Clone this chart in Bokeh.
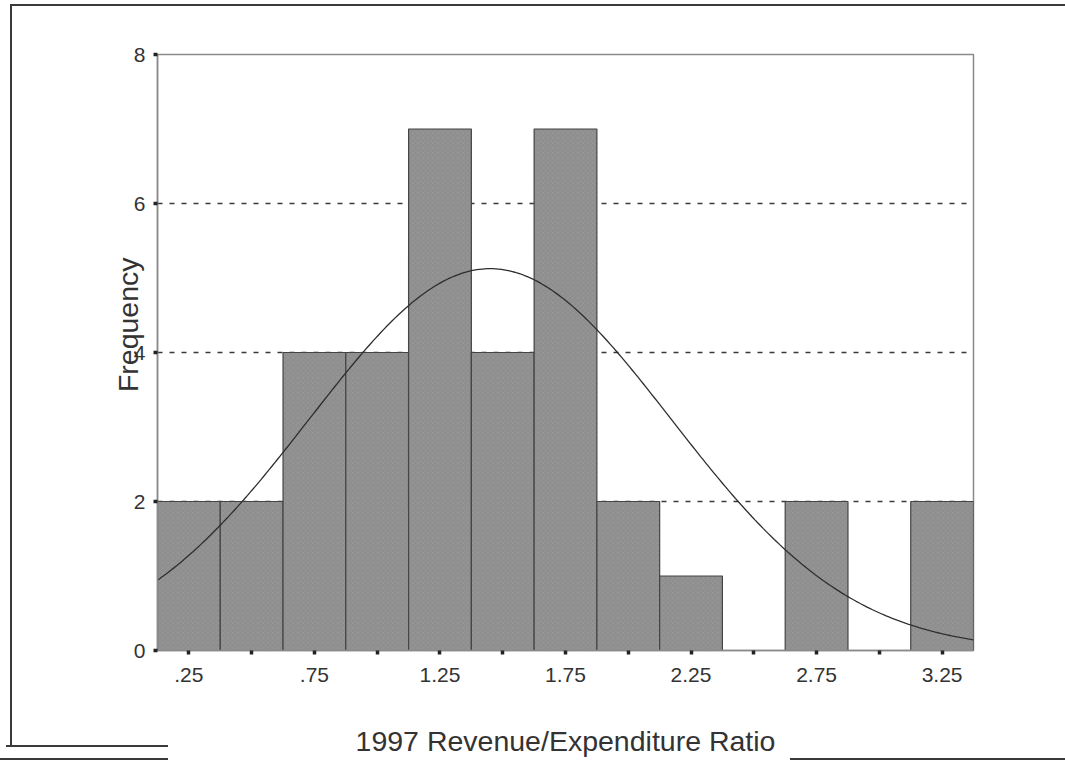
import numpy as np
from bokeh.plotting import figure
from bokeh.models import FixedTicker, ColumnDataSource, Range1d
from bokeh.embed import file_html
from bokeh.resources import INLINE

# ---- data ----
bin_centers = [0.25, 0.50, 0.75, 1.00, 1.25, 1.50, 1.75, 2.00, 2.25, 2.50, 2.75, 3.00, 3.25]
frequencies = [2, 2, 4, 4, 7, 4, 7, 2, 1, 0, 2, 0, 2]
bin_width = 0.25
x_tick_values = [0.25, 0.50, 0.75, 1.00, 1.25, 1.50, 1.75, 2.00, 2.25, 2.50, 2.75, 3.00, 3.25]
x_tick_labels = [".25", "", ".75", "", "1.25", "", "1.75", "", "2.25", "", "2.75", "", "3.25"]
y_tick_values = [0, 2, 4, 6, 8]
grid_values = [2, 4, 6]
# normal curve overlay (parameters)
curve_mean = 1.45
curve_sd = 0.72

FONT = "Liberation Sans"

centers = np.array(bin_centers)
counts = np.array(frequencies)
n_total = counts.sum()

src = ColumnDataSource(dict(left=centers - bin_width / 2, right=centers + bin_width / 2,
                            top=counts, bottom=np.zeros_like(counts)))

x_lo = centers.min() - bin_width / 2
x_hi = centers.max() + bin_width / 2

p = figure(width=1065, height=761, output_backend="svg", toolbar_location=None,
           x_range=Range1d(x_lo, x_hi), y_range=Range1d(0, 8),
           min_border_left=157, min_border_right=92, min_border_top=54, min_border_bottom=111)

p.background_fill_color = "white"
p.border_fill_color = None
p.outline_line_color = "#8a8a8a"
p.outline_line_width = 1.5
p.styles = {
    "background": (
        "linear-gradient(#3a3a3a,#3a3a3a) 10px 4px / 2px 743px no-repeat,"
        "linear-gradient(#3a3a3a,#3a3a3a) 10px 4px / 1055px 2px no-repeat,"
        "linear-gradient(#3a3a3a,#3a3a3a) 6px 745px / 162px 2px no-repeat,"
        "linear-gradient(#3a3a3a,#3a3a3a) 0px 758px / 168px 2px no-repeat,"
        "linear-gradient(#3a3a3a,#3a3a3a) 790px 758px / 275px 2px no-repeat,"
        "white"
    )
}

# grid
p.xgrid.visible = False
p.ygrid.ticker = FixedTicker(ticks=grid_values)
p.ygrid.grid_line_color = "#3a3a3a"
p.ygrid.grid_line_dash = "5 7"
p.ygrid.grid_line_width = 1.3

# bars
p.quad(left="left", right="right", top="top", bottom="bottom", source=src,
       fill_color="#8e8e8e", line_color="#444444", line_width=1.2,
       hatch_pattern="x", hatch_color="#a3a3a3", hatch_scale=5, hatch_weight=0.6, hatch_alpha=0.6)

# normal curve
xs = np.linspace(x_lo, x_hi, 300)
ys = n_total * bin_width * np.exp(-0.5 * ((xs - curve_mean) / curve_sd) ** 2) / (curve_sd * np.sqrt(2 * np.pi))
p.line(xs, ys, line_color="#2e2e2e", line_width=1.3)

# axes
p.xaxis.ticker = FixedTicker(ticks=x_tick_values)
p.xaxis.major_label_overrides = {v: l for v, l in zip(x_tick_values, x_tick_labels)}
p.yaxis.ticker = FixedTicker(ticks=y_tick_values)

for ax in (p.xaxis[0], p.yaxis[0]):
    ax.axis_line_color = "#8a8a8a"
    ax.axis_line_width = 1.5
    ax.major_tick_line_color = "#222222"
    ax.major_tick_line_width = 3.5
    ax.major_tick_out = 4
    ax.major_tick_in = 0
    ax.minor_tick_line_color = None
    ax.major_label_text_font = FONT
    ax.major_label_text_font_size = "21px"
    ax.major_label_text_color = "#333333"
    ax.axis_label_text_font = FONT
    ax.axis_label_text_font_size = "28.5px"
    ax.axis_label_text_font_style = "normal"
    ax.axis_label_text_color = "#333333"

p.xaxis.axis_label = "1997 Revenue/Expenditure Ratio"
p.xaxis.major_label_standoff = 13
p.xaxis.axis_label_standoff = 40

# leading no-break spaces move the rotated title upward, as in the reference
p.yaxis.axis_label = "\u00a0" * 7 + "Frequency"
p.yaxis.major_label_standoff = 8
p.yaxis.axis_label_standoff = -13

open("out.html", "w").write(file_html(p, INLINE))
